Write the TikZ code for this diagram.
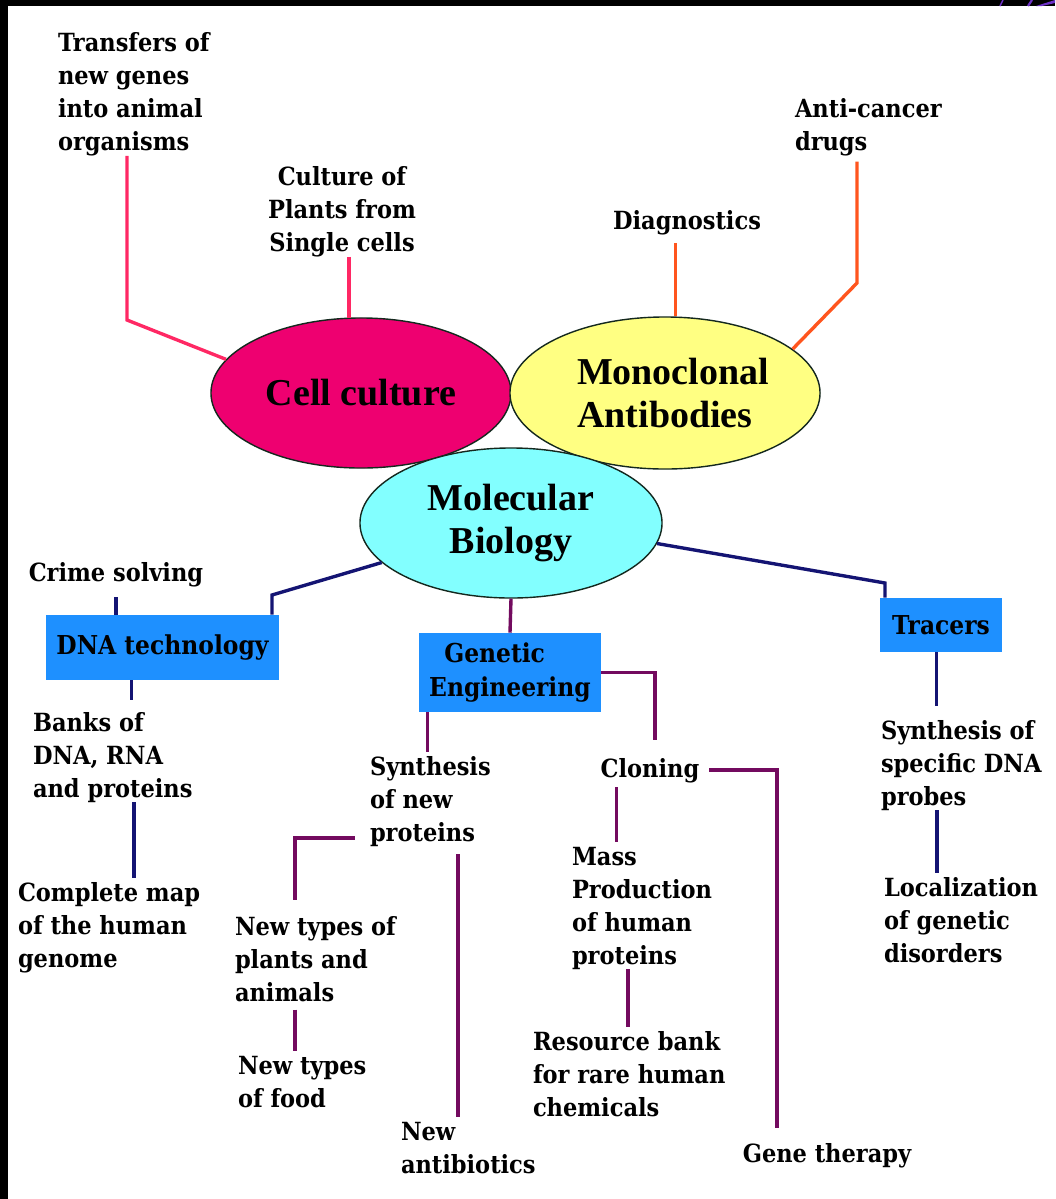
\documentclass[tikz,border=0pt]{standalone}
\usepackage{fontspec}
\usetikzlibrary{calc,shapes.geometric}
\newfontfamily\labf{DejaVu Serif Condensed}
\newfontfamily\ellf{Liberation Serif}
\definecolor{pinkln}{RGB}{255,40,100}
\definecolor{ccfill}{RGB}{238,0,112}
\definecolor{orln}{RGB}{255,85,30}
\definecolor{yel}{RGB}{255,255,130}
\definecolor{cya}{RGB}{130,255,255}
\definecolor{navyln}{RGB}{20,20,115}
\definecolor{purpln}{RGB}{115,10,95}
\definecolor{boxblue}{RGB}{30,144,255}
\definecolor{ellline}{RGB}{20,40,30}
\definecolor{cornerpurp}{RGB}{110,50,200}
\begin{document}
\begin{tikzpicture}[x=0.025cm,y=-0.025cm,
  lbl/.style={font=\labf\bfseries\fontsize{17.8}{23.5}\selectfont, inner sep=0pt, outer sep=0pt, align=left, anchor=north west},
  lblc/.style={lbl, align=center, anchor=north},
  ellnode/.style={ellipse, draw=ellline, line width=1pt, inner sep=0pt, align=center,
    font=\ellf\bfseries\fontsize{27}{30.6}\selectfont},
  bluebox/.style={rectangle, fill=boxblue, inner sep=0pt, align=center,
    font=\labf\bfseries\fontsize{18.5}{23.5}\selectfont},
  conn/.style={line width=2.4pt},
  pk/.style={conn, draw=pinkln},
  og/.style={conn, draw=orln},
  nv/.style={conn, draw=navyln},
  pu/.style={conn, draw=purpln}]
\useasboundingbox (0,0) rectangle (1055,1199);
\fill[white] (0,0) rectangle (1055,1199);
\fill[black] (0,0) rectangle (8,1199);
\fill[black] (0,0) rectangle (1055,6);
\draw[cornerpurp, line width=1pt] (1000,6) -- (1003,0);
\draw[cornerpurp, line width=1.5pt] (1028,6) -- (1032,0);
\fill[cornerpurp] (1036,6) -- (1055,0) -- (1055,3) -- (1042,6) -- cycle;

% ellipses
\node[ellnode, fill=ccfill, minimum width=7.5cm, minimum height=3.75cm] (cc) at (361,393) {Cell culture};
\node[ellnode, fill=yel, minimum width=7.75cm, minimum height=3.8cm] (mc) at (665,393) {\hspace*{0.4cm}Monoclonal\\Antibodies};
\node[ellnode, fill=cya, minimum width=7.55cm, minimum height=3.75cm] (mb) at (511,523) {Molecular\\Biology};

% boxes
\node[bluebox, minimum width=5.825cm, minimum height=1.625cm] (dna) at (162.5,647.5) {DNA technology};
\node[bluebox, align=left, minimum width=4.55cm, minimum height=1.975cm] (ge) at (510,672.5) {\hspace*{0.375cm}Genetic\\Engineering};
\node[bluebox, minimum width=3.05cm, minimum height=1.35cm] (tr) at (941,625) {Tracers};

% labels
\node[lbl] (trans) at (58,28) {\strut Transfers of\\new genes\\into animal\\organisms};
\node[lblc] (cult) at (342,162) {\strut Culture of\\Plants from\\Single cells};
\node[lblc] (diag) at (687,206) {\strut Diagnostics};
\node[lbl] (anti) at (795,94) {\strut Anti-cancer\\drugs};
\node[lblc] (crime) at (116,558) {\strut Crime solving};
\node[lbl] (banks) at (33,708) {\strut Banks of\\DNA, RNA\\and proteins};
\node[lbl] (compl) at (18,878) {\strut Complete map\\of the human\\genome};
\node[lbl] (synth) at (370,752) {\strut Synthesis\\of new\\proteins};
\node[lblc] (clon) at (650,754) {\strut Cloning};
\node[lbl] (mass) at (572,842) {\strut Mass\\Production\\of human\\proteins};
\node[lbl] (res) at (533,1027) {\strut Resource bank\\for rare human\\chemicals};
\node[lbl] (newt) at (235,912) {\strut New types of\\plants and\\animals};
\node[lbl] (food) at (238,1051) {\strut New types\\of food};
\node[lbl] (anti2) at (401,1117) {\strut New\\antibiotics};
\node[lblc] (gene) at (827,1139) {\strut Gene therapy};
\node[lbl] (sdna) at (881,716) {\strut Synthesis of\\specific DNA\\probes};
\node[lbl] (loc) at (884,873) {\strut Localization\\of genetic\\disorders};

% connectors: cell culture and monoclonal
\coordinate (k1) at (127,320);
\draw[pk] (k1 |- trans.south) -- (k1) -- (cc.166);
\draw[pk] (cc.99 |- cult.south) -- (cc.99);
\draw[og, shorten <=0.1cm] (mc.82 |- diag.south) -- (mc.82);
\coordinate (k4) at (857,283);
\draw[og, shorten <=0.15cm] (k4 |- anti.south) -- (k4) -- (mc.19);

% DNA technology branch
\coordinate (k5) at (272,595);
\draw[nv] (mb.197) -- (k5) -- (k5 |- dna.north);
\draw[nv, shorten <=0.15cm] (crime.south) -- (crime.south |- dna.north);
\draw[nv, shorten >=0.2cm] ($(dna.south west)+(86,0)$) coordinate (a7) -- (a7 |- banks.north);
\draw[nv] ($(banks.south west)+(101,0)$) coordinate (a8) -- (a8 |- compl.north);

% Genetic engineering branch
\draw[pu] (mb.south) -- (ge.north);
\draw[pu] ($(ge.south west)+(9,0)$) coordinate (a10) -- (a10 |- synth.north);
\coordinate (k11) at (655,672.5);
\draw[pu, shorten >=0.35cm] (ge.east) -- (ge.east -| k11) -- (k11 |- clon.north);
\coordinate (k12) at (777,770);
\draw[pu, shorten <=0.25cm, shorten >=0.27cm] (k12 -| clon.east) -- (k12) -- (k12 |- gene.north);
\draw[pu] ($(clon.south west)+(16,0)$) coordinate (a13) -- (a13 |- mass.north);
\draw[pu] ($(mass.south west)+(56,0)$) coordinate (a14) -- (a14 |- res.north);
\coordinate (k15) at (295,838);
\draw[pu, shorten <=0.375cm, shorten >=0.3cm] (k15 -| synth.west) -- (k15) -- (k15 |- newt.north);
\draw[pu, shorten <=0.2cm] ($(newt.south west)+(60,0)$) coordinate (a16) -- (a16 |- food.north);
\draw[pu, shorten <=0.2cm] ($(synth.south west)+(88,0)$) coordinate (a17) -- (a17 |- anti2.north);

% Tracers branch
\coordinate (k18) at (885,583);
\draw[nv] (mb.-8) -- (k18) -- (k18 |- tr.north);
\draw[nv, shorten >=0.25cm] ($(tr.south west)+(57,0)$) coordinate (a19) -- (a19 |- sdna.north);
\draw[nv] ($(sdna.south west)+(56,0)$) coordinate (a20) -- (a20 |- loc.north);
\end{tikzpicture}
\end{document}
